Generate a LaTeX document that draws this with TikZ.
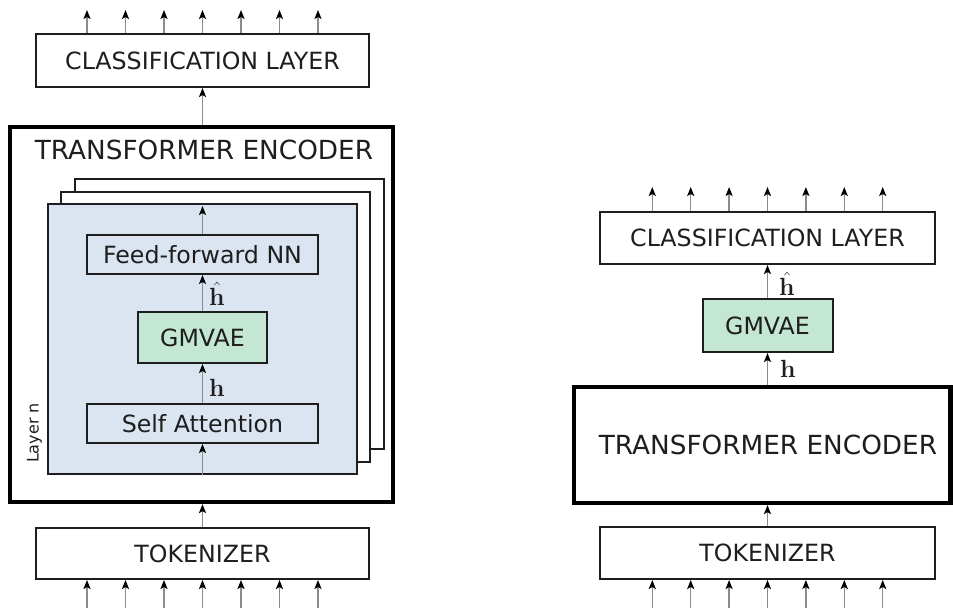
\documentclass[tikz,border=0pt]{standalone}
\usepackage[no-math]{fontspec}
\setmainfont{DejaVu Sans}
\usetikzlibrary{arrows.meta,calc}
\definecolor{layerblue}{HTML}{DBE5F1}
\definecolor{gmgreen}{HTML}{C4E7D3}
\definecolor{arrgray}{HTML}{8C8C8C}
\definecolor{ink}{HTML}{1E1E1E}
\begin{document}
\begin{tikzpicture}[x=1pt,y=-1pt,
  box/.style={draw=ink, line width=2pt, fill=white, inner sep=0pt, text=ink,
    font=\fontsize{23.7}{28}\selectfont},
  encbox/.style={draw=black, line width=4.2pt, fill=white, inner sep=0pt, text=ink,
    font=\fontsize{26.3}{31}\selectfont},
  layerbox/.style={draw=ink, line width=2pt, inner sep=0pt,
    minimum width=309pt, minimum height=270pt},
  gmbox/.style={box, fill=gmgreen},
  arr/.style={draw=arrgray, line width=1.5pt, -{Stealth[black,length=9pt,width=7pt,inset=2pt]}},
  hlab/.style={inner sep=0pt, text=ink, font=\fontsize{25}{29}\selectfont},
]
\useasboundingbox (0,0) rectangle (953,610);

% ---------------- left diagram ----------------
\node[box, minimum width=333pt, minimum height=53pt] (clsL) at (202.5,60.5) {CLASSIFICATION LAYER};
\node[encbox, minimum width=383pt, minimum height=375pt] (encL) at (201.5,314.5) {};
\node[inner sep=0pt, text=ink, font=\fontsize{26.3}{31}\selectfont] (encLt) at (204,150) {TRANSFORMER ENCODER};

\node[layerbox, fill=white] (layC) at (229,313.5) {};
\node[layerbox, fill=white] (layB) at (215.5,327) {};
\node[layerbox, fill=layerblue] (layA) at (202.5,339) {};
\node[inner sep=0pt, text=ink, rotate=90, font=\fontsize{16}{19}\selectfont] (layn) at (34.5,433) {Layer n};

\node[box, fill=layerblue, minimum width=231pt, minimum height=39pt] (ff) at (202.5,254.5) {Feed-forward NN};
\node[gmbox, minimum width=129pt, minimum height=51pt] (gmL) at (202.5,337.5) {GMVAE};
\node[box, fill=layerblue, minimum width=231pt, minimum height=39pt] (sa) at (202.5,423.5) {Self Attention};
\node[box, minimum width=333pt, minimum height=51pt] (tokL) at (202.5,553.5) {TOKENIZER};

\draw[arr] (layA.south) -- (sa.south);
\draw[arr] (sa.north) -- (gmL.south);
\draw[arr] (gmL.north) -- (ff.south);
\draw[arr] (ff.north) -- ($(layA.north)+(0,3)$);
\node[hlab] (hL) at (217,388) {$\mathbf{h}$};
\node[hlab] (hhL) at (217,294) {$\hat{\mathbf{h}}$};

\draw[arr] (tokL.north) -- (tokL.north |- encL.south);
\draw[arr] (encL.north -| clsL.south) -- (clsL.south);

\foreach \i in {-3,...,3} {
  \coordinate (tL\i) at ($(clsL.north)+(\i*38.5,0)$);
  \coordinate (tLe\i) at ($(tL\i)+(0,-23)$);
  \draw[arr] (tL\i) -- (tLe\i);
  \coordinate (bL\i) at ($(tokL.south)+(\i*38.5,0)$);
  \coordinate (bLs\i) at ($(bL\i)+(0,28)$);
  \draw[arr] (bLs\i) -- (bL\i);
}

% ---------------- right diagram ----------------
\node[box, minimum width=335pt, minimum height=52pt] (clsR) at (767.5,238) {CLASSIFICATION LAYER};
\node[gmbox, minimum width=130pt, minimum height=53pt] (gmR) at (767.5,325.5) {GMVAE};
\node[encbox, minimum width=376.5pt, minimum height=116pt] (encR) at (762.25,445) {};
\node[inner sep=0pt, text=ink, font=\fontsize{26.3}{31}\selectfont] (encRt) at (768,445) {TRANSFORMER ENCODER};
\node[box, minimum width=335pt, minimum height=52pt] (tokR) at (767.5,553) {TOKENIZER};

\draw[arr] (gmR.north) -- (clsR.south);
\draw[arr] (gmR.south |- encR.north) -- (gmR.south);
\draw[arr] (tokR.north) -- (tokR.north |- encR.south);
\node[hlab] (hhR) at (787,284) {$\hat{\mathbf{h}}$};
\node[hlab] (hR) at (788,369) {$\mathbf{h}$};

\foreach \i in {-3,...,3} {
  \coordinate (tR\i) at ($(clsR.north)+(\i*38.4,0)$);
  \coordinate (tRe\i) at ($(tR\i)+(0,-24)$);
  \draw[arr] (tR\i) -- (tRe\i);
  \coordinate (bR\i) at ($(tokR.south)+(\i*38.4,0)$);
  \coordinate (bRs\i) at ($(bR\i)+(0,28)$);
  \draw[arr] (bRs\i) -- (bR\i);
}
\end{tikzpicture}
\end{document}
